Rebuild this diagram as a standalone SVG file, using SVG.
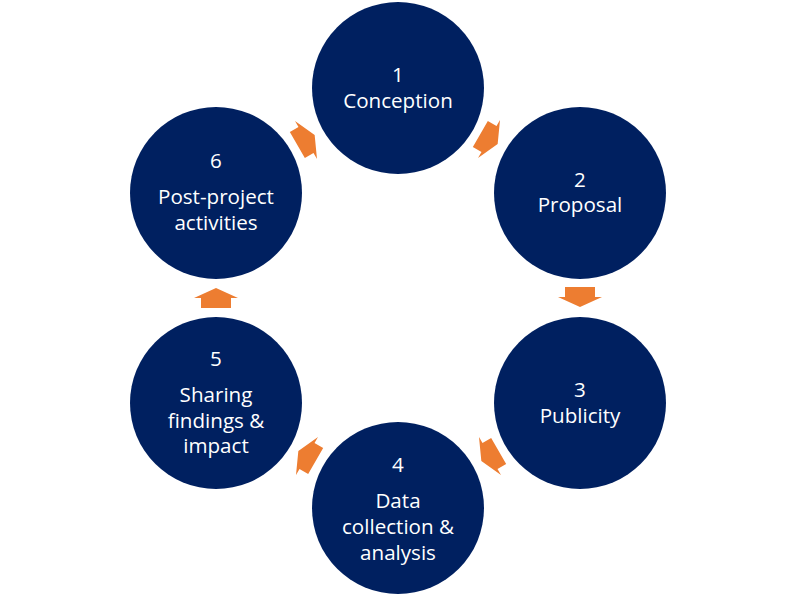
<svg xmlns="http://www.w3.org/2000/svg" width="800" height="600" viewBox="0 0 800 600">
<defs>
<style>
.node circle{fill:#002060;}
.node text{fill:#ffffff;font-family:"Open Sans","Noto Sans",sans-serif;font-size:20.6px;text-anchor:middle;}
.arrow{fill:#ED7D31;}
</style>
<path id="arr" d="M-15,-10 L15,-10 L15,0 L22,0 L0,10 L-22,0 L-15,0 Z"/>
</defs>
<rect width="800" height="600" fill="#ffffff"/>
<g id="connectors">
<use href="#arr" class="arrow" transform="translate(489,139) rotate(-60)"/>
<use href="#arr" class="arrow" transform="translate(580,297)"/>
<use href="#arr" class="arrow" transform="translate(490,456) rotate(60)"/>
<use href="#arr" class="arrow" transform="translate(307,456) rotate(120)"/>
<use href="#arr" class="arrow" transform="translate(216,298) rotate(180)"/>
<use href="#arr" class="arrow" transform="translate(306,140) rotate(240)"/>
</g>
<g id="node1" class="node">
<circle cx="398" cy="88" r="86"/>
<text x="398" y="82">1</text>
<text x="398" y="108">Conception</text>
</g>
<g id="node2" class="node">
<circle cx="580" cy="193" r="86"/>
<text x="580" y="187">2</text>
<text x="580" y="212">Proposal</text>
</g>
<g id="node3" class="node">
<circle cx="580" cy="403" r="86"/>
<text x="580" y="397">3</text>
<text x="580" y="423">Publicity</text>
</g>
<g id="node4" class="node">
<circle cx="398" cy="508" r="86"/>
<text x="398" y="472">4</text>
<text x="398" y="508">Data</text>
<text x="398" y="534">collection &amp;</text>
<text x="398" y="560">analysis</text>
</g>
<g id="node5" class="node">
<circle cx="216" cy="403" r="86"/>
<text x="216" y="366">5</text>
<text x="216" y="402">Sharing</text>
<text x="216" y="428">findings &amp;</text>
<text x="216" y="453">impact</text>
</g>
<g id="node6" class="node">
<circle cx="216" cy="193" r="86"/>
<text x="216" y="168">6</text>
<text x="216" y="204">Post-project</text>
<text x="216" y="230">activities</text>
</g>
</svg>
